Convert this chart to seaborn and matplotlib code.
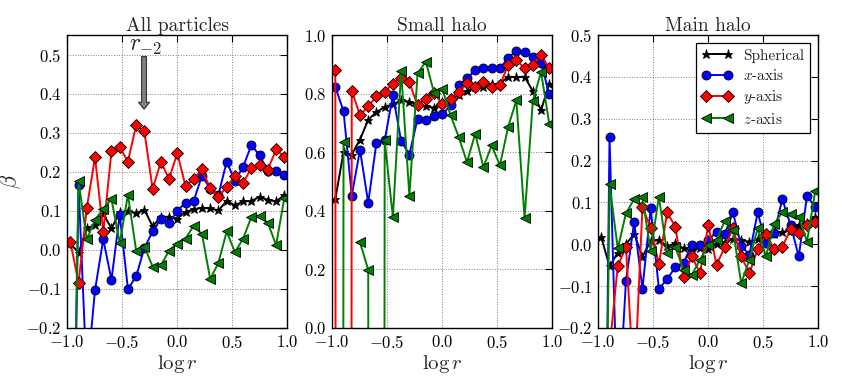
import matplotlib
matplotlib.use('Agg')
import matplotlib.pyplot as plt
import seaborn as sns
import numpy as np

nan = np.nan

# bin centres in log r (same for all three panels)
log_r = np.linspace(-0.97, 0.975, 27)

titles = ['All particles', 'Small halo', 'Main halo']
labels = ['Spherical', '$x$-axis', '$y$-axis', '$z$-axis']

# All particles
sph_all = [0.017, -0.008, 0.056, 0.063, 0.092, 0.055, 0.096, 0.100, 0.094, 0.103, 0.060, 0.084, 0.085,
           0.080, 0.097, 0.104, 0.108, 0.106, 0.101, 0.125, 0.114, 0.124, 0.125, 0.136, 0.128, 0.124, 0.140]
x_all = [-1.2, 0.167, -0.33, -0.103, 0.027, -0.077, 0.090, -0.100, -0.068, 0.005, 0.047, 0.079, 0.068,
         0.100, 0.121, 0.126, 0.190, 0.156, 0.141, 0.226, 0.176, 0.213, 0.268, 0.242, 0.202, 0.203, 0.192]
y_all = [0.021, -0.085, 0.107, 0.237, 0.046, 0.252, 0.263, 0.226, 0.319, 0.303, 0.156, 0.225, 0.182,
         0.248, 0.163, 0.182, 0.206, 0.158, 0.135, 0.162, 0.188, 0.171, 0.210, 0.218, 0.205, 0.257, 0.238]
z_all = [-1.0, 0.175, 0.027, 0.077, 0.105, 0.130, 0.017, 0.141, -0.002, 0.008, -0.043, -0.040, -0.002,
         0.016, 0.029, 0.062, 0.040, -0.075, -0.033, 0.047, -0.006, 0.029, 0.084, 0.087, 0.070, 0.012, 0.132]

# Small halo
sph_small = [0.44, 0.60, 0.592, 0.643, 0.711, 0.737, 0.754, 0.764, 0.777, 0.772, 0.764, 0.757, 0.752,
             0.770, 0.783, 0.795, 0.808, 0.823, 0.823, 0.832, 0.834, 0.858, 0.856, 0.858, 0.808, 0.743, 0.834]
x_small = [0.823, 0.740, 0.452, 0.608, 0.427, 0.633, 0.640, 0.795, 0.638, 0.592, 0.715, 0.709, 0.724,
           0.729, 0.760, 0.829, 0.852, 0.880, 0.889, 0.888, 0.886, 0.922, 0.946, 0.943, 0.926, 0.905, 0.798]
y_small = [0.880, -30.0, 0.810, 0.726, 0.757, 0.791, 0.806, 0.834, 0.852, 0.838, 0.760, 0.783, 0.803,
           0.764, 0.783, 0.804, 0.837, 0.823, 0.840, 0.821, 0.829, 0.897, 0.914, 0.887, 0.897, 0.932, 0.886]
z_small = [-30.0, 0.635, nan, 0.292, 0.199, -30.0, 0.640, 0.378, 0.878, 0.452, 0.869, 0.909, 0.803,
           0.817, 0.726, 0.652, 0.566, 0.663, 0.549, 0.623, 0.555, 0.686, 0.777, 0.375, 0.774, 0.874, 0.697]

# Main halo
sph_main = [0.017, -0.053, -0.020, 0.000, 0.025, -0.030, 0.008, 0.010, -0.005, 0.002, -0.010, -0.015, -0.008,
            -0.012, 0.000, 0.005, 0.012, 0.010, 0.006, 0.012, 0.020, 0.025, 0.030, 0.032, 0.046, 0.050, 0.066]
x_main = [-1.5, 0.257, -0.43, -0.087, 0.054, -0.107, 0.086, -0.107, -0.083, -0.055, -0.044, -0.002, -0.002,
          0.010, 0.030, 0.024, 0.076, -0.004, -0.025, 0.076, 0.004, 0.026, 0.108, 0.046, -0.029, 0.116, 0.088]
y_main = [-0.40, -0.25, -0.052, -0.007, -0.35, 0.088, 0.040, -0.048, 0.076, 0.042, -0.079, -0.029, -0.069,
          0.046, -0.049, -0.007, 0.038, -0.029, -0.069, -0.012, 0.025, -0.012, -0.006, 0.036, 0.028, 0.046, 0.054]
z_main = [-1.5, 0.144, -0.010, 0.074, 0.108, 0.112, -0.017, 0.114, -0.022, -0.007, -0.061, -0.073, -0.037,
          -0.002, 0.010, 0.056, 0.034, -0.093, -0.037, 0.038, -0.029, 0.049, 0.076, 0.073, 0.066, 0.006, 0.128]

panels = [
    [sph_all, x_all, y_all, z_all],
    [sph_small, x_small, y_small, z_small],
    [sph_main, x_main, y_main, z_main],
]
ylims = [(-0.2, 0.55), (0.0, 1.0), (-0.2, 0.5)]
ysteps = [0.1, 0.2, 0.1]

styles = [
    dict(color='k', marker='*'),
    dict(color='b', marker='o'),
    dict(color='r', marker='D'),
    dict(color='g', marker='<'),
]

sns.set_style('white')
plt.rcParams['font.family'] = ['cmr10', 'DejaVu Serif']
plt.rcParams['mathtext.fontset'] = 'cm'
plt.rcParams['axes.formatter.use_mathtext'] = True
plt.rcParams['axes.unicode_minus'] = True


def draw(ax, x, y, label, **kw):
    # break the line where a bin is empty
    y = np.asarray(y, dtype=float)
    seg = np.cumsum(np.isnan(y))
    first = True
    for s in np.unique(seg[~np.isnan(y)]):
        m = (seg == s) & ~np.isnan(y)
        sns.lineplot(x=x[m], y=y[m], ax=ax, estimator=None, sort=False, legend=False,
                     label=label if first else None, linewidth=1.4, markersize=6.5,
                     markeredgecolor='k', markeredgewidth=0.6, **kw)
        first = False


fig = plt.figure(figsize=(8.42, 3.86), dpi=100)
lefts = [0.0796, 0.3943, 0.7102]

for k, left in enumerate(lefts):
    ax = fig.add_axes([left, 0.1503, 0.2613, 0.759])
    for series, lab, st in zip(panels[k], labels, styles):
        draw(ax, log_r, series, lab, **st)
    ax.set_xlim(-1, 1)
    ax.set_ylim(*ylims[k])
    ax.set_xticks([-1, -0.5, 0, 0.5, 1])
    ax.yaxis.set_major_locator(matplotlib.ticker.MultipleLocator(ysteps[k]))
    ax.grid(True, color='0.5', linestyle=':', linewidth=0.7)
    for sp in ax.spines.values():
        sp.set_color('k')
        sp.set_linewidth(1.0)
    ax.tick_params(direction='in', top=True, right=True, length=5, width=0.8,
                   labelsize=12, pad=4, colors='k')
    ax.set_title(titles[k], fontsize=14, pad=3)
    ax.set_xlabel(r'$\log r$', fontsize=15, labelpad=2)

ax0 = fig.axes[0]
ax0.set_ylabel(r'$\beta$', fontsize=16)
ax0.yaxis.set_label_coords(-0.2, 0.5)

# r_-2 marker
ax0.annotate('', xy=(-0.30, 0.36), xytext=(-0.30, 0.495),
             arrowprops=dict(facecolor='0.5', edgecolor='0.2', linewidth=0.8,
                             width=3.5, headwidth=8, headlength=5, shrink=0))
ax0.text(-0.29, 0.522, r'$r_{-2}$', ha='center', va='center', fontsize=17)

leg = fig.axes[2].legend(loc='upper right', numpoints=2, fancybox=False, framealpha=1,
                         edgecolor='k', fontsize=11, handlelength=2.0,
                         borderaxespad=0.5, labelspacing=0.35, handletextpad=0.7)
leg.get_frame().set_linewidth(0.9)

fig.savefig('out.png', dpi=100)
